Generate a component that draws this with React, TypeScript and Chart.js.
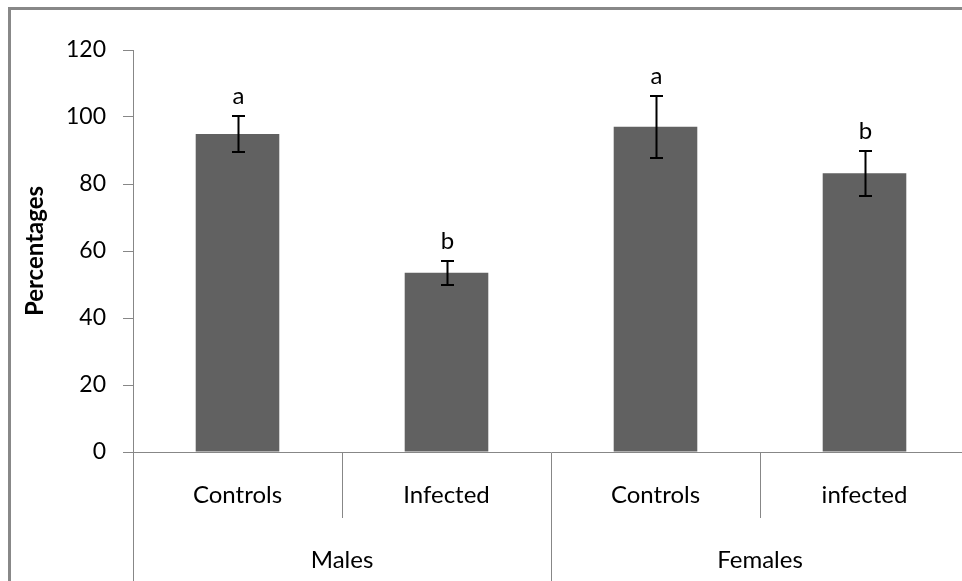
import React, { useEffect, useRef } from "react";
import { Chart, registerables } from "chart.js";

Chart.register(...registerables);

const subCategories = ["Controls", "Infected", "Controls", "infected"];
const groups = ["Males", "Females"];
const means = [94.9, 53.5, 97.1, 83.2];
const errors = [5.3, 3.6, 9.2, 6.7];
const letters = ["a", "b", "a", "b"];
const yMin = 0;
const yMax = 120;
const yStep = 20;

const AXIS_GRAY = "#878787";
const BAR_COLOR = "#616161";
const FONT = "Lato, 'Open Sans', sans-serif";

const errorBarPlugin = {
  id: "errorBars",
  afterDatasetsDraw(chart: any) {
    const ctx = chart.ctx;
    const meta = chart.getDatasetMeta(0);
    const yScale = chart.scales.y;
    ctx.save();
    meta.data.forEach((bar: any, i: number) => {
      const x = Math.round(bar.x) + 0.5;
      const yTop = Math.round(yScale.getPixelForValue(means[i] + errors[i]));
      const yBot = Math.round(yScale.getPixelForValue(means[i] - errors[i]));
      ctx.strokeStyle = "#000";
      ctx.lineWidth = 2;
      ctx.beginPath();
      ctx.moveTo(x, yTop);
      ctx.lineTo(x, yBot);
      ctx.moveTo(x - 6.5, yTop);
      ctx.lineTo(x + 6.5, yTop);
      ctx.moveTo(x - 6.5, yBot);
      ctx.lineTo(x + 6.5, yBot);
      ctx.stroke();
      ctx.fillStyle = "#000";
      ctx.font = "24px " + FONT;
      ctx.textAlign = "center";
      ctx.textBaseline = "alphabetic";
      ctx.fillText(letters[i], x, yTop - 12);
    });
    ctx.restore();
  },
};

export default function App() {
  const canvasRef = useRef<HTMLCanvasElement | null>(null);

  useEffect(() => {
    if (!canvasRef.current) return;
    const chart = new Chart(canvasRef.current, {
      type: "bar",
      data: {
        labels: subCategories,
        datasets: [
          {
            data: means,
            backgroundColor: BAR_COLOR,
            borderWidth: 0,
            barPercentage: 0.4,
            categoryPercentage: 1,
            xAxisID: "x",
            yAxisID: "y",
          },
        ],
      },
      options: {
        responsive: false,
        animation: false,
        layout: { padding: { left: 21, top: 50, right: 31, bottom: 0 } },
        plugins: {
          legend: { display: false },
          tooltip: { enabled: false },
        },
        scales: {
          x: {
            type: "category",
            position: "bottom",
            weight: 0,
            offset: true,
            grid: {
              offset: true,
              drawOnChartArea: false,
              drawTicks: true,
              tickLength: 66,
              color: AXIS_GRAY,
              lineWidth: 1,
            },
            border: { display: true, color: AXIS_GRAY, width: 1 },
            ticks: {
              color: "#000",
              font: { family: FONT, size: 24 },
              padding: -37,
              maxRotation: 0,
              autoSkip: false,
            },
            afterFit: (scale: any) => {
              scale.height = 56;
            },
          },
          x2: {
            type: "category",
            position: "bottom",
            weight: 1,
            labels: groups,
            offset: true,
            grid: {
              offset: true,
              drawOnChartArea: false,
              drawTicks: true,
              tickLength: 80,
              color: AXIS_GRAY,
              lineWidth: 1,
            },
            border: { display: false },
            ticks: {
              color: "#000",
              font: { family: FONT, size: 24 },
              padding: -42,
              maxRotation: 0,
              autoSkip: false,
            },
            afterFit: (scale: any) => {
              scale.height = 112;
            },
          },
          y: {
            min: yMin,
            max: yMax,
            ticks: {
              stepSize: yStep,
              color: "#000",
              font: { family: FONT, size: 23 },
              padding: 17,
            },
            grid: {
              drawOnChartArea: false,
              drawTicks: true,
              tickLength: 10,
              color: AXIS_GRAY,
              lineWidth: 1,
            },
            border: { display: true, color: AXIS_GRAY, width: 1 },
            title: {
              display: true,
              text: "Percentages",
              color: "#000",
              font: { family: FONT, size: 24, weight: "bold" },
              padding: { top: 0, bottom: 0 },
            },
            afterFit: (scale: any) => {
              scale.width = 112;
            },
          },
        },
      },
      plugins: [errorBarPlugin],
    } as any);
    return () => chart.destroy();
  }, []);

  return (
    <div
      style={{
        position: "fixed",
        left: 0,
        top: 0,
        width: 962,
        height: 581,
        overflow: "hidden",
        background: "#fff",
      }}
    >
      <div
        style={{
          position: "absolute",
          left: 8,
          top: 7,
          width: 1100,
          height: 700,
          border: "3px solid #888",
        }}
      />
      <canvas
        ref={canvasRef}
        width={1000}
        height={620}
        style={{ position: "absolute", left: 0, top: 0, width: 1000, height: 620 }}
      />
    </div>
  );
}
